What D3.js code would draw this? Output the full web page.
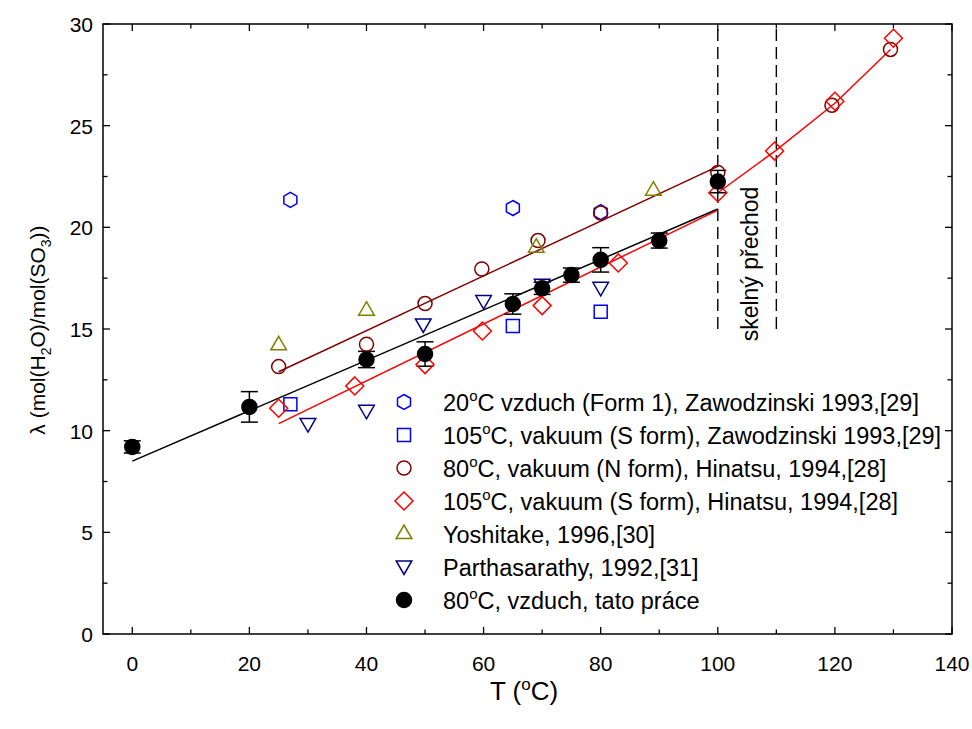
<html>
<head>
  <meta charset="utf-8">
  <title>Lambda vs T</title>
  <style>
    body { margin: 0; background: #fff; }
    text { font-family: Arial, "Liberation Sans", sans-serif; }
  </style>
  <script src="https://d3js.org/d3.v7.min.js"></script>
</head>
<body>
  <div id="chart"></div>
  <script>
    // --- data ---
    const xTicks = [0, 20, 40, 60, 80, 100, 120, 140];
    const yTicks = [0, 5, 10, 15, 20, 25, 30];

    const zawAirT = [27, 65, 80];
    const zawAirL = [21.35, 20.95, 20.75];

    const zawVacT = [27, 65, 80];
    const zawVacL = [11.3, 15.15, 15.85];

    const hinNT = [25, 40, 50, 59.7, 69.3, 80, 100, 119.5, 129.5];
    const hinNL = [13.15, 14.25, 16.25, 17.95, 19.35, 20.7, 22.7, 26.0, 28.75];

    const hinST = [25, 38, 50, 59.8, 70, 83, 100, 109.7, 120, 130];
    const hinSL = [11.1, 12.2, 13.25, 14.9, 16.15, 18.25, 21.7, 23.75, 26.2, 29.3];

    const yosT = [25, 40, 69, 89];
    const yosL = [14.2, 15.9, 19.0, 21.8];

    const parT = [30, 40, 49.7, 60, 70, 80];
    const parL = [10.3, 10.95, 15.2, 16.35, 17.15, 17.0];

    const ownT = [0, 20, 40, 50, 65, 70, 75, 80, 90, 100];
    const ownL = [9.2, 11.17, 13.5, 13.77, 16.23, 17.0, 17.65, 18.4, 19.35, 22.25];
    const ownErr = [0.3, 0.75, 0.4, 0.6, 0.5, 0.3, 0.35, 0.6, 0.37, 0.55];

    // fitted lines
    const fitOwnT = [0, 100], fitOwnL = [8.5, 20.9];
    const fitNT = [25, 100], fitNL = [12.9, 23.0];
    const fitS1T = [25, 100], fitS1L = [10.35, 20.85];
    const fitS2T = [100, 110, 120, 129.5], fitS2L = [21.7, 23.8, 26.1, 28.75];

    // glass transition bounds
    const glassT = [100, 110];
    const glassFrom = 15;

    const W = 972, H = 729;
    const svg = d3.select("#chart").append("svg")
      .attr("width", W).attr("height", H);

    const x = d3.scaleLinear().domain([-5, 140]).range([103, 952]);
    const y = d3.scaleLinear().domain([0, 30]).range([634, 24]);

    // frame
    svg.append("rect")
      .attr("x", x(-5)).attr("y", y(30))
      .attr("width", x(140) - x(-5)).attr("height", y(0) - y(30))
      .attr("fill", "none").attr("stroke", "#000").attr("stroke-width", 1.5);

    // ticks (inward) on all four sides
    const xMinor = d3.range(0, 141, 10);
    const yMinor = d3.range(0, 30.1, 2.5);
    const g = svg.append("g").attr("stroke", "#000").attr("stroke-width", 1.3);
    xMinor.forEach(v => {
      const len = v % 20 === 0 ? 7 : 4.5;
      g.append("line").attr("x1", x(v)).attr("x2", x(v)).attr("y1", y(0)).attr("y2", y(0) - len);
      g.append("line").attr("x1", x(v)).attr("x2", x(v)).attr("y1", y(30)).attr("y2", y(30) + len);
    });
    yMinor.forEach(v => {
      const len = v % 5 === 0 ? 7 : 4.5;
      g.append("line").attr("y1", y(v)).attr("y2", y(v)).attr("x1", x(-5)).attr("x2", x(-5) + len);
      g.append("line").attr("y1", y(v)).attr("y2", y(v)).attr("x1", x(140)).attr("x2", x(140) - len);
    });

    // tick labels
    svg.selectAll(".xl").data(xTicks).enter().append("text")
      .attr("x", d => x(d)).attr("y", 671)
      .attr("text-anchor", "middle").attr("font-size", 21).text(d => d);
    svg.selectAll(".yl").data(yTicks).enter().append("text")
      .attr("x", 93).attr("y", d => y(d) + 8)
      .attr("text-anchor", "end").attr("font-size", 21).text(d => d);

    // axis titles
    const xt = svg.append("text").attr("x", 524).attr("y", 700)
      .attr("text-anchor", "middle").attr("font-size", 26);
    xt.append("tspan").text("T (");
    xt.append("tspan").attr("font-size", 17).attr("dy", -10).text("o");
    xt.append("tspan").attr("dy", 10).text("C)");

    const yt = svg.append("text")
      .attr("transform", "translate(45,330) rotate(-90)")
      .attr("text-anchor", "middle").attr("font-size", 21);
    yt.append("tspan").text("λ (mol(H");
    yt.append("tspan").attr("font-size", 14).attr("dy", 6).text("2");
    yt.append("tspan").attr("dy", -6).text("O)/mol(SO");
    yt.append("tspan").attr("font-size", 14).attr("dy", 6).text("3");
    yt.append("tspan").attr("dy", -6).text("))");

    // glass transition dashed lines
    svg.selectAll(".glass").data(glassT).enter().append("line")
      .attr("x1", d => x(d)).attr("x2", d => x(d))
      .attr("y1", y(glassFrom)).attr("y2", y(30))
      .attr("stroke", "#000").attr("stroke-width", 1.4)
      .attr("stroke-dasharray", "12,6");
    svg.append("text")
      .attr("transform", `translate(${x(105) + 11},264) rotate(-90)`)
      .attr("text-anchor", "middle").attr("font-size", 23)
      .text("skelný přechod");

    // fit lines
    const line = d3.line().x(d => x(d[0])).y(d => y(d[1]));
    const fits = [
      [fitOwnT, fitOwnL, "#000"],
      [fitNT, fitNL, "#800000"],
      [fitS1T, fitS1L, "#ff0000"],
      [fitS2T, fitS2L, "#ff0000"]
    ];
    fits.forEach(([ts, ls, c]) => {
      svg.append("path").datum(ts.map((t, i) => [t, ls[i]]))
        .attr("d", line).attr("fill", "none").attr("stroke", c).attr("stroke-width", 1.5);
    });

    // marker shapes
    function shape(kind) {
      switch (kind) {
        case "hex": {
          const r = 7.5;
          return d3.line()(d3.range(6).map(i => {
            const a = Math.PI / 3 * i - Math.PI / 2;
            return [r * Math.cos(a), r * Math.sin(a)];
          })) + "Z";
        }
        case "square": return "M-6.5,-6.5H6.5V6.5H-6.5Z";
        case "circle": return d3.symbol(d3.symbolCircle, Math.PI * 7 * 7)();
        case "diamond": return "M0,-9L9,0L0,9L-9,0Z";
        case "tri": return "M0,-9L7.8,4.5L-7.8,4.5Z";
        case "itri": return "M0,7.5L7.8,-6L-7.8,-6Z";
        case "dot": return d3.symbol(d3.symbolCircle, Math.PI * 7.5 * 7.5)();
      }
    }

    const series = [
      { t: zawAirT, l: zawAirL, kind: "hex", color: "#0000ff", label: ["20", "C vzduch (Form 1), Zawodzinski 1993,[29]"] },
      { t: zawVacT, l: zawVacL, kind: "square", color: "#0000ff", label: ["105", "C, vakuum (S form), Zawodzinski 1993,[29]"] },
      { t: hinNT, l: hinNL, kind: "circle", color: "#800000", label: ["80", "C, vakuum (N form), Hinatsu, 1994,[28]"] },
      { t: hinST, l: hinSL, kind: "diamond", color: "#ff0000", label: ["105", "C, vakuum (S form), Hinatsu, 1994,[28]"] },
      { t: yosT, l: yosL, kind: "tri", color: "#808000", label: ["Yoshitake, 1996,[30]"] },
      { t: parT, l: parL, kind: "itri", color: "#000080", label: ["Parthasarathy, 1992,[31]"] },
      { t: ownT, l: ownL, kind: "dot", color: "#000", label: ["80", "C, vzduch, tato práce"] }
    ];

    // error bars of own data
    const eb = svg.append("g").attr("stroke", "#000").attr("stroke-width", 1.5);
    ownT.forEach((t, i) => {
      const cx = x(t), y1 = y(ownL[i] - ownErr[i]), y2 = y(ownL[i] + ownErr[i]);
      eb.append("line").attr("x1", cx).attr("x2", cx).attr("y1", y1).attr("y2", y2);
      eb.append("line").attr("x1", cx - 8.5).attr("x2", cx + 8.5).attr("y1", y1).attr("y2", y1);
      eb.append("line").attr("x1", cx - 8.5).attr("x2", cx + 8.5).attr("y1", y2).attr("y2", y2);
    });

    series.forEach(s => {
      svg.append("g").selectAll("path")
        .data(s.t.map((t, i) => [t, s.l[i]]))
        .enter().append("path")
        .attr("d", shape(s.kind))
        .attr("transform", d => `translate(${x(d[0])},${y(d[1])})`)
        .attr("fill", s.kind === "dot" ? "#000" : "none")
        .attr("stroke", s.color).attr("stroke-width", 1.5);
    });

    // legend
    const legX = 404, legY = 402, legDy = 33;
    series.forEach((s, i) => {
      const cy = legY + i * legDy;
      svg.append("path").attr("d", shape(s.kind))
        .attr("transform", `translate(${legX},${cy})`)
        .attr("fill", s.kind === "dot" ? "#000" : "none")
        .attr("stroke", s.color).attr("stroke-width", 1.5);
      const tx = svg.append("text").attr("x", 443).attr("y", cy + 9).attr("font-size", 23.5);
      if (s.label.length === 2) {
        tx.append("tspan").text(s.label[0]);
        tx.append("tspan").attr("font-size", 15).attr("dy", -10).text("o");
        tx.append("tspan").attr("dy", 10).text(s.label[1]);
      } else {
        tx.text(s.label[0]);
      }
    });
  </script>
</body>
</html>
